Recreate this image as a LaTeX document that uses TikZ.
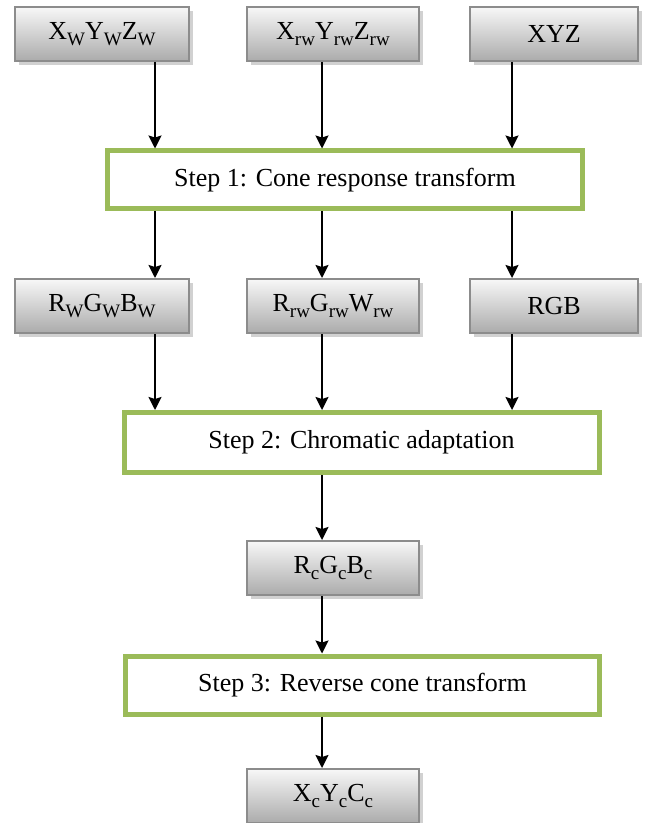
\documentclass[tikz,border=0pt]{standalone}
\usepackage{fontspec}
\setmainfont{Liberation Serif}
\usetikzlibrary{arrows.meta,shadows}
\definecolor{stepgreen}{HTML}{9BBB59}
\newcommand{\lowsub}[1]{\raisebox{-0.45ex}{\fontsize{9.5}{10}\selectfont #1}}
\tikzset{
  valbox/.style={draw=black!45, line width=1pt, top color=black!3, bottom color=black!33,
    minimum height=27pt, inner sep=2pt, font=\fontsize{13}{15}\selectfont,
    drop shadow={shadow xshift=1.8pt, shadow yshift=-1.8pt, fill=black!18, opacity=1}},
  stepbox/.style={draw=stepgreen, line width=2.5pt, fill=white,
    minimum width=237.5pt, minimum height=29pt, font=\fontsize{13}{15}\selectfont},
  arr/.style={line width=0.8pt, -{Stealth[length=6.5pt,width=6.5pt,inset=1pt]}}
}
\begin{document}
\begin{tikzpicture}[x=0.5pt,y=-0.5pt]
                \useasboundingbox (0,0) rectangle (645,823);
                % arrow columns
                \coordinate (c1) at (155,0);
                \coordinate (c2) at (322,0);
                \coordinate (c3) at (512,0);
                % inputs
                \node[valbox, minimum width=87pt] (xw) at (102,34) {X\lowsub{W}Y\lowsub{W}Z\lowsub{W}};
                \node[valbox, minimum width=86pt] (xrw) at (333,34) {X\lowsub{rw}Y\lowsub{rw}Z\lowsub{rw}};
                \node[valbox, minimum width=84pt] (xyz) at (554,34) {XYZ};
                \node[stepbox] (s1) at (345,180) {Step 1: Cone response transform};
                % cone responses
                \node[valbox, minimum width=87pt] (rw) at (102,306) {R\lowsub{W}G\lowsub{W}B\lowsub{W}};
                \node[valbox, minimum width=86pt] (rrw) at (333,306) {R\lowsub{rw}G\lowsub{rw}W\lowsub{rw}};
                \node[valbox, minimum width=84pt] (rgb) at (554,306) {RGB};
                \node[stepbox, minimum height=30pt] (s2) at (361.5,442.5) {Step 2: Chromatic adaptation};
                \node[valbox, minimum width=86pt] (rc) at (333,568) {R\lowsub{c}G\lowsub{c}B\lowsub{c}};
                \node[stepbox, minimum width=237pt] (s3) at (362.5,685) {Step 3: Reverse cone transform};
                \node[valbox, minimum width=86pt] (xc) at (333,796) {X\lowsub{c}Y\lowsub{c}C\lowsub{c}};
                % arrows
                \draw[arr] (xw.south -| c1) -- (s1.north -| c1);
                \draw[arr] (xrw.south -| c2) -- (s1.north -| c2);
                \draw[arr] (xyz.south -| c3) -- (s1.north -| c3);
                \draw[arr] (s1.south -| c1) -- (rw.north -| c1);
                \draw[arr] (s1.south -| c2) -- (rrw.north -| c2);
                \draw[arr] (s1.south -| c3) -- (rgb.north -| c3);
                \draw[arr] (rw.south -| c1) -- (s2.north -| c1);
                \draw[arr] (rrw.south -| c2) -- (s2.north -| c2);
                \draw[arr] (rgb.south -| c3) -- (s2.north -| c3);
                \draw[arr] (s2.south -| c2) -- (rc.north -| c2);
                \draw[arr] (rc.south -| c2) -- (s3.north -| c2);
                \draw[arr] (s3.south -| c2) -- (xc.north -| c2);
            \end{tikzpicture}
\end{document}
